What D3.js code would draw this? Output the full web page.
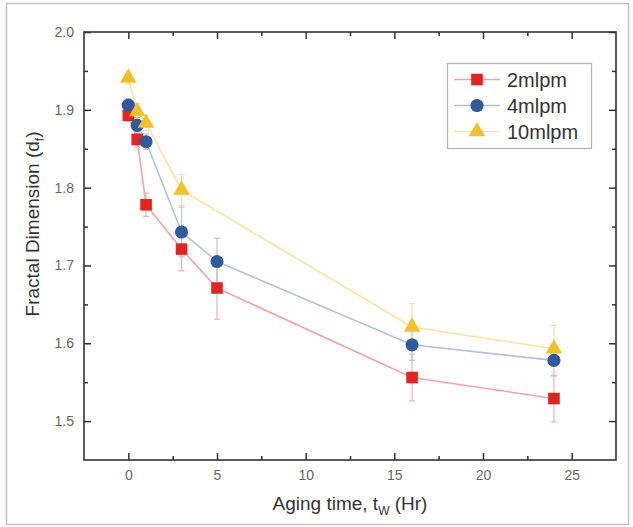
<!DOCTYPE html>
<html>
<head>
<meta charset="utf-8">
<script src="https://cdn.jsdelivr.net/npm/d3@7"></script>
<style>
  body { margin: 0; background: #fff; }
  svg { display: block; font-family: "Liberation Sans", Arial, sans-serif; }
</style>
</head>
<body>
<svg id="chart" width="633" height="527"></svg>
<script>
// data
var times = [0, 0.5, 1, 3, 5, 16, 24];
var times10 = [0, 0.5, 1, 3, 16, 24];

var d2 = [1.893, 1.862, 1.778, 1.721, 1.671, 1.556, 1.529];
var e2 = [0.008, 0.01, 0.015, 0.028, 0.04, 0.03, 0.03];
var d4 = [1.906, 1.880, 1.859, 1.743, 1.705, 1.598, 1.578];
var e4 = [0.008, 0.01, 0.01, 0.032, 0.03, 0.02, 0.02];
var d10 = [1.941, 1.898, 1.883, 1.797, 1.621, 1.593];
var e10 = [0.008, 0.01, 0.01, 0.02, 0.03, 0.03];

var seriesNames = ["2mlpm", "4mlpm", "10mlpm"];
var xTicks = [0, 5, 10, 15, 20, 25];
var yTicks = [1.5, 1.6, 1.7, 1.8, 1.9, 2.0];

var svg = d3.select("#chart"),
    margin = { top: 32, right: 17, bottom: 67, left: 84 },
    width = 633 - margin.left - margin.right,
    height = 527 - margin.top - margin.bottom;

var x = d3.scaleLinear().domain([-2.5, 27.5]).range([0, width]);
var y = d3.scaleLinear().domain([1.45, 2.0]).range([height, 0]);

// outer border
svg.append("rect")
    .attr("x", 6.5).attr("y", 3.5)
    .attr("width", 622).attr("height", 521)
    .attr("fill", "none")
    .attr("stroke", "#c4c4c4")
    .attr("stroke-width", 1.5);

var g = svg.append("g")
    .attr("transform", "translate(" + margin.left + "," + margin.top + ")");

var series = [
    { name: seriesNames[0], t: times, v: d2, e: e2, color: "#e32420", line: "#f3a3a5", err: "#e8b4b8", shape: "square" },
    { name: seriesNames[1], t: times, v: d4, e: e4, color: "#2f5b9c", line: "#b3c0dc", err: "#c0c4d0", shape: "circle" },
    { name: seriesNames[2], t: times10, v: d10, e: e10, color: "#f2c12e", line: "#f9e2a6", err: "#ece0b8", shape: "triangle" }
];

series.forEach(function(s) {
    s.pts = s.t.map(function(t, i) { return { t: t, v: s.v[i], e: s.e[i] }; });
});

// AXES (ticks inward, mirrored on all sides)
function tickAxis(axisFn, scale, ticks, len, fmt) {
    return axisFn(scale).tickValues(ticks).tickSize(-len).tickPadding(10).tickFormat(fmt);
}
var xMinor = d3.range(-2.5, 27.6, 2.5).filter(function(v) { return xTicks.indexOf(v) < 0 && v > -2.5 && v < 27.5; });
var yMinor = [1.55, 1.65, 1.75, 1.85, 1.95];

var axB = g.append("g").attr("transform", "translate(0," + height + ")")
    .call(tickAxis(d3.axisBottom, x, xTicks, 7, d3.format("d")));
var axL = g.append("g")
    .call(tickAxis(d3.axisLeft, y, yTicks, 7, d3.format(".1f")));
g.append("g").attr("transform", "translate(0," + height + ")")
    .call(d3.axisBottom(x).tickValues(xMinor).tickSize(-4).tickFormat(""));
g.append("g")
    .call(d3.axisLeft(y).tickValues(yMinor).tickSize(-4).tickFormat(""));
g.append("g")
    .call(d3.axisTop(x).tickValues(xTicks).tickSize(-7).tickFormat(""));
g.append("g")
    .call(d3.axisTop(x).tickValues(xMinor).tickSize(-4).tickFormat(""));
g.append("g").attr("transform", "translate(" + width + ",0)")
    .call(d3.axisRight(y).tickValues(yTicks).tickSize(-7).tickFormat(""));
g.append("g").attr("transform", "translate(" + width + ",0)")
    .call(d3.axisRight(y).tickValues(yMinor).tickSize(-4).tickFormat(""));

g.selectAll(".domain").remove();
g.selectAll(".tick line").attr("stroke", "#333").attr("stroke-width", 1.5);
g.selectAll(".tick text").attr("fill", "#666").style("font-size", "14px");

g.append("rect")
    .attr("width", width).attr("height", height)
    .attr("fill", "none")
    .attr("stroke", "#333")
    .attr("stroke-width", 1.6);

// LINES
var line = d3.line()
    .x(function(d) { return x(d.t); })
    .y(function(d) { return y(d.v); });

series.forEach(function(s) {
    g.append("path")
        .datum(s.pts)
        .attr("fill", "none")
        .attr("stroke", s.line)
        .attr("stroke-width", 1.6)
        .attr("d", line);
});

// ERROR BARS
series.forEach(function(s) {
    var eb = g.selectAll(null).data(s.pts).enter().append("g").attr("stroke", s.err).attr("stroke-width", 1.2);
    eb.append("line")
        .attr("x1", function(d) { return x(d.t); })
        .attr("x2", function(d) { return x(d.t); })
        .attr("y1", function(d) { return y(d.v - d.e); })
        .attr("y2", function(d) { return y(d.v + d.e); });
    [-1, 1].forEach(function(sgn) {
        eb.append("line")
            .attr("x1", function(d) { return x(d.t) - 3; })
            .attr("x2", function(d) { return x(d.t) + 3; })
            .attr("y1", function(d) { return y(d.v + sgn * d.e); })
            .attr("y2", function(d) { return y(d.v + sgn * d.e); });
    });
});

// MARKERS
var symbols = {
    square: d3.symbol().type(d3.symbolSquare).size(135),
    circle: d3.symbol().type(d3.symbolCircle).size(135),
    triangle: d3.symbol().type(d3.symbolTriangle).size(120)
};

series.forEach(function(s) {
    g.selectAll(null).data(s.pts).enter().append("path")
        .attr("d", symbols[s.shape])
        .attr("transform", function(d) { return "translate(" + x(d.t) + "," + y(d.v) + ")"; })
        .attr("fill", s.color);
});

// LEGEND
var legend = svg.append("g").attr("transform", "translate(447,63)");
legend.append("rect")
    .attr("x", 0.5).attr("y", 0.5)
    .attr("width", 144).attr("height", 85)
    .attr("fill", "#fff")
    .attr("stroke", "#b5b5b5")
    .attr("stroke-width", 1.3);

series.forEach(function(s, i) {
    var ly = 16.5 + i * 26;
    legend.append("line")
        .attr("x1", 7).attr("x2", 53)
        .attr("y1", ly).attr("y2", ly)
        .attr("stroke", s.line).attr("stroke-width", 1.4);
    legend.append("path")
        .attr("d", symbols[s.shape])
        .attr("transform", "translate(30," + ly + ")")
        .attr("fill", s.color);
    legend.append("text")
        .attr("x", 60).attr("y", ly)
        .attr("dy", "0.36em")
        .attr("fill", "#333")
        .style("font-size", "20px")
        .text(s.name);
});

// AXIS TITLES
var xt = svg.append("text")
    .attr("x", margin.left + width / 2)
    .attr("y", 510)
    .attr("text-anchor", "middle")
    .attr("fill", "#333")
    .style("font-size", "19px");
xt.append("tspan").text("Aging time, t");
xt.append("tspan").attr("dy", 5).style("font-size", "12px").text("W");
xt.append("tspan").attr("dy", -5).text(" (Hr)");

var yt = svg.append("text")
    .attr("transform", "translate(39," + (margin.top + 192) + ") rotate(-90)")
    .attr("text-anchor", "middle")
    .attr("fill", "#333")
    .style("font-size", "19px");
yt.append("tspan").text("Fractal Dimension (d");
yt.append("tspan").attr("dy", 5).style("font-size", "12px").text("f");
yt.append("tspan").attr("dy", -5).text(")");
</script>
</body>
</html>
